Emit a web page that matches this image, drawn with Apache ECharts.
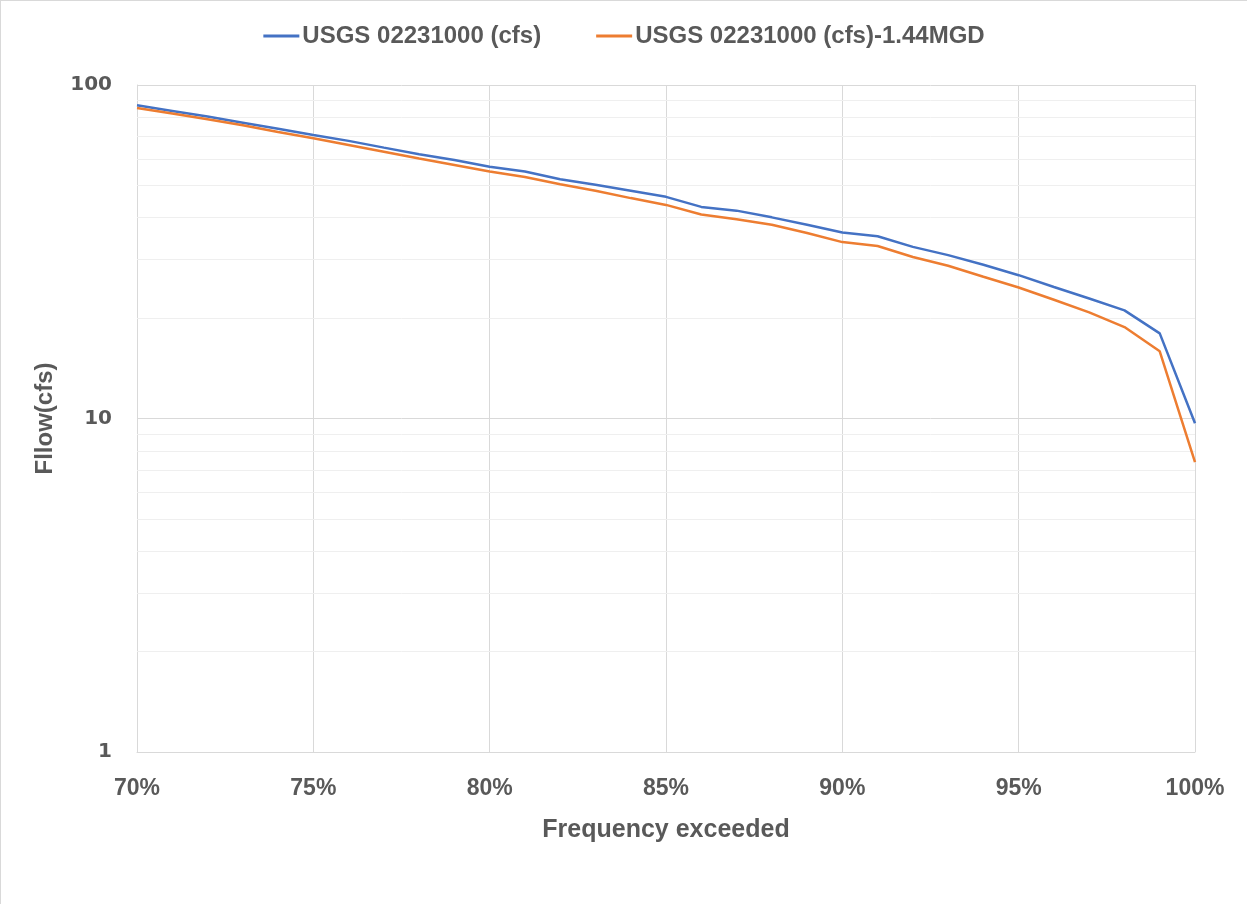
<!DOCTYPE html>
<html>
<head>
<meta charset="utf-8">
<script src="https://cdn.jsdelivr.net/npm/echarts@6/dist/echarts.min.js"></script>
<style>
html,body{margin:0;padding:0;background:#fff;}
#chart{width:1247px;height:904px;box-sizing:border-box;border-left:1px solid #d9d9d9;border-top:1px solid #d9d9d9;}
</style>
</head>
<body>
<div id="chart"></div>
<script>
const frequency = [70,71,72,73,74,75,76,77,78,79,80,81,82,83,84,85,86,87,88,89,90,91,92,93,94,95,96,97,98,99,100];
const usgsFlow = [86.9,83.6,80.4,77.1,73.9,70.8,68.0,64.9,62.0,59.6,56.9,55.0,52.2,50.2,48.2,46.2,43.1,42.0,40.1,38.1,36.1,35.2,32.7,30.9,28.9,26.9,24.8,22.9,21.1,18.0,9.68];
const usgsFlowMinus = [85.3,82.1,78.9,75.7,72.3,69.2,66.1,63.1,60.2,57.6,55.0,53.0,50.4,48.2,45.8,43.7,40.9,39.6,38.1,36.0,33.8,32.9,30.5,28.7,26.6,24.7,22.7,20.8,18.8,15.9,7.40];
const minorGridValues = [2,3,4,5,6,7,8,9,20,30,40,50,60,70,80,90];
const seriesNames = ['USGS 02231000 (cfs)', 'USGS 02231000 (cfs)-1.44MGD'];

const chart = echarts.init(document.getElementById('chart'));
const font = "'Liberation Sans',Arial,sans-serif";
const pair = arr => frequency.map((f,i)=>[f, arr[i]]);

chart.setOption({
  animation:false,
  legend:{
    top:18, left:'center',
    itemWidth:36, itemHeight:3, itemGap:55,
    icon:'rect',
    textStyle:{fontFamily:font, fontSize:24, fontWeight:'bold', color:'#595959', padding:[0,0,0,-2]},
    data:seriesNames
  },
  grid:{left:136, right:52, top:84, bottom:152},
  xAxis:{
    type:'value', min:70, max:100, interval:5,
    name:'Frequency exceeded', nameLocation:'middle', nameGap:66,
    nameTextStyle:{fontFamily:font, fontSize:25, fontWeight:'bold', color:'#595959'},
    axisLine:{show:true, lineStyle:{color:'#d9d9d9', width:1}},
    axisTick:{show:false},
    axisLabel:{formatter:'{value}%', margin:25, fontFamily:font, fontSize:23, fontWeight:'bold', color:'#595959'},
    splitLine:{show:true, lineStyle:{color:'#d9d9d9', width:1}}
  },
  yAxis:{
    type:'log', logBase:10, min:1, max:100,
    name:'Fllow(cfs)', nameLocation:'middle', nameGap:80, nameRotate:90,
    nameTextStyle:{fontFamily:font, fontSize:24, fontWeight:'bold', color:'#595959'},
    axisLine:{show:true, lineStyle:{color:'#d9d9d9', width:1}},
    axisTick:{show:false},
    axisLabel:{margin:25, fontFamily:"'DejaVu Sans',sans-serif", fontSize:20, fontWeight:'bold', color:'#595959'},
    splitLine:{show:true, lineStyle:{color:'#d9d9d9', width:1}}
  },
  series:[
    {
      name:seriesNames[0], type:'line', data:pair(usgsFlow),
      showSymbol:false, symbol:'none', lineStyle:{color:'#4472C4', width:2.5}, itemStyle:{color:'#4472C4'},
      z:3,
      markLine:{
        silent:true, symbol:['none','none'], label:{show:false},
        lineStyle:{color:'#efefef', width:1, type:'solid'},
        data:minorGridValues.map(v=>({yAxis:v})),
        z:1
      }
    },
    {
      name:seriesNames[1], type:'line', data:pair(usgsFlowMinus),
      showSymbol:false, symbol:'none', lineStyle:{color:'#ED7D31', width:2.5}, itemStyle:{color:'#ED7D31'},
      z:3
    }
  ]
});
</script>
</body>
</html>
